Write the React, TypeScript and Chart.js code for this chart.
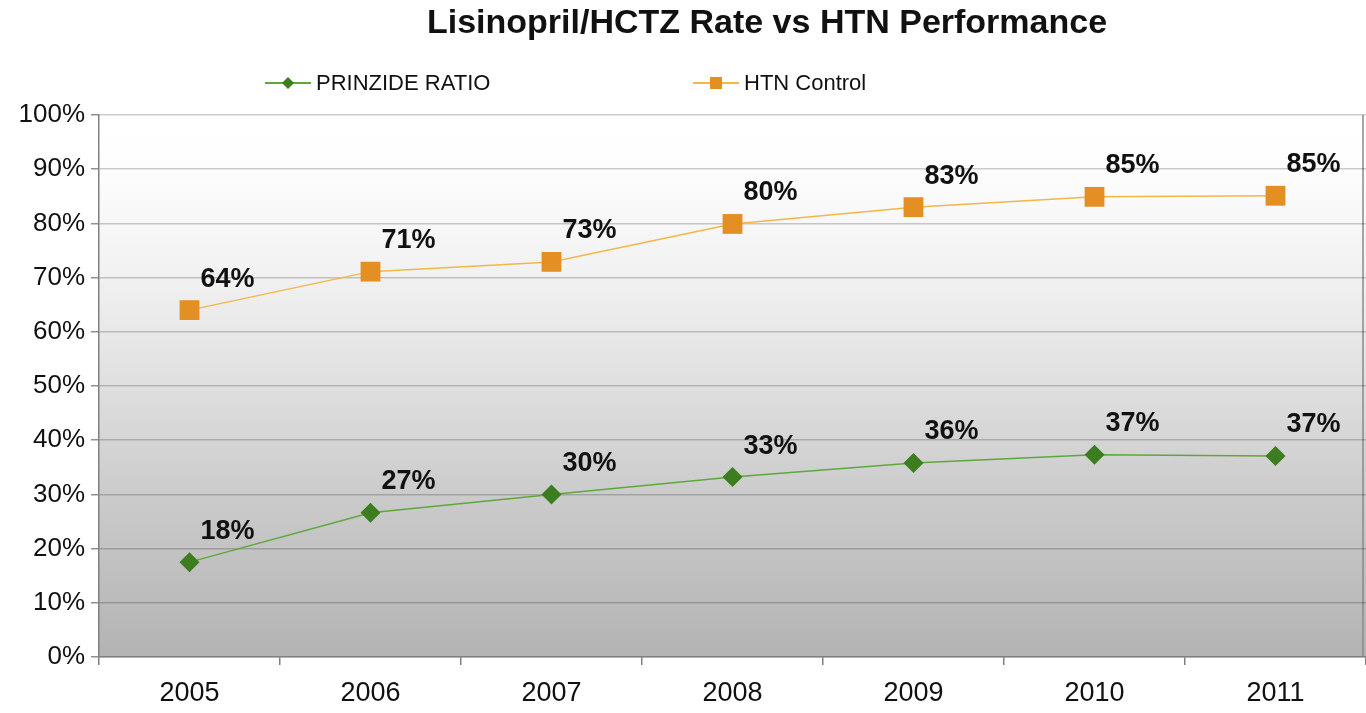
import React, { useEffect, useRef } from "react";
import { Chart, registerables } from "chart.js";

Chart.register(...registerables);

const categories = ["2005", "2006", "2007", "2008", "2009", "2010", "2011"];
const prinzideValues = [17.5, 26.6, 30.0, 33.2, 35.8, 37.3, 37.1];
const prinzideLabels = ["18%", "27%", "30%", "33%", "36%", "37%", "37%"];
const htnValues = [64.0, 71.1, 72.9, 79.9, 83.0, 84.9, 85.1];
const htnLabels = ["64%", "71%", "73%", "80%", "83%", "85%", "85%"];
const titleText = "Lisinopril/HCTZ Rate vs HTN Performance";

const FONT = "'Liberation Sans', Arial, sans-serif";

export default function App() {
  const ref = useRef<HTMLCanvasElement | null>(null);

  useEffect(() => {
    document.body.style.margin = "0";
    const canvas = ref.current!;
    const bgPlugin = {
      id: "bg",
      beforeDraw(chart: any) {
        const { ctx, chartArea } = chart;
        const g = ctx.createLinearGradient(0, chartArea.top, 0, chartArea.bottom);
        g.addColorStop(0, "#ffffff");
        g.addColorStop(0.1, "#fdfdfd");
        g.addColorStop(0.3, "#f1f1f1");
        g.addColorStop(0.5, "#dfdfdf");
        g.addColorStop(0.7, "#cbcbcb");
        g.addColorStop(1, "#b3b3b3");
        ctx.save();
        ctx.fillStyle = g;
        ctx.fillRect(chartArea.left, chartArea.top, chartArea.right - chartArea.left, chartArea.bottom - chartArea.top);
        ctx.strokeStyle = "#8a8a8a";
        ctx.lineWidth = 1.5;
        ctx.beginPath();
        ctx.moveTo(chartArea.right - 3, chartArea.top);
        ctx.lineTo(chartArea.right - 3, chartArea.bottom);
        ctx.stroke();
        ctx.restore();
      },
    };
    const overlayPlugin = {
      id: "overlay",
      afterDraw(chart: any) {
        const { ctx } = chart;
        ctx.save();
        // title
        ctx.fillStyle = "#111111";
        ctx.font = `bold 34px ${FONT}`;
        ctx.textAlign = "center";
        ctx.textBaseline = "middle";
        ctx.fillText(titleText, 767, 24);
        // legend
        const items = [
          { ds: chart.data.datasets[0], x: 265 },
          { ds: chart.data.datasets[1], x: 693 },
        ];
        ctx.font = `22px ${FONT}`;
        ctx.textAlign = "left";
        items.forEach(({ ds, x }) => {
          const y = 83;
          ctx.strokeStyle = ds.borderColor;
          ctx.lineWidth = 2;
          ctx.beginPath();
          ctx.moveTo(x, y);
          ctx.lineTo(x + 46, y);
          ctx.stroke();
          ctx.fillStyle = ds.pointBackgroundColor;
          const cx = x + 23;
          if (ds.pointStyle === "rectRot") {
            ctx.beginPath();
            ctx.moveTo(cx, y - 6);
            ctx.lineTo(cx + 6, y);
            ctx.lineTo(cx, y + 6);
            ctx.lineTo(cx - 6, y);
            ctx.closePath();
            ctx.fill();
          } else {
            ctx.fillRect(cx - 6, y - 6, 12, 12);
          }
          ctx.fillStyle = "#111111";
          ctx.fillText(ds.label, x + 51, y + 1);
        });
        // data labels
        ctx.font = `bold 27px ${FONT}`;
        ctx.textAlign = "center";
        ctx.fillStyle = "#111111";
        const labelSets = [prinzideLabels, htnLabels];
        chart.data.datasets.forEach((_ds: any, di: number) => {
          const meta = chart.getDatasetMeta(di);
          meta.data.forEach((pt: any, i: number) => {
            ctx.fillText(labelSets[di][i], pt.x + 38, pt.y - 31);
          });
        });
        ctx.restore();
      },
    };

    const chart = new Chart(canvas, {
      type: "line",
      data: {
        labels: categories,
        datasets: [
          {
            label: "PRINZIDE RATIO",
            data: prinzideValues,
            borderColor: "#5ea83a",
            borderWidth: 1.5,
            pointStyle: "rectRot",
            pointRadius: 10,
            pointBackgroundColor: "#3b7d1f",
            pointBorderColor: "#3b7d1f",
            pointBorderWidth: 0,
            tension: 0,
          } as any,
          {
            label: "HTN Control",
            data: htnValues,
            borderColor: "#f2b749",
            borderWidth: 1.5,
            pointStyle: "rect",
            pointRadius: 14,
            pointBackgroundColor: "#e38f24",
            pointBorderColor: "#e38f24",
            pointBorderWidth: 0,
            tension: 0,
          } as any,
        ],
      },
      options: {
        animation: false,
        responsive: false,
        layout: { autoPadding: false, padding: { top: 115, right: 0, left: 0, bottom: 0 } },
        plugins: {
          legend: { display: false },
          title: { display: false },
          tooltip: { enabled: false },
        },
        scales: {
          x: {
            type: "category",
            offset: true,
            grid: {
              offset: true,
              drawOnChartArea: false,
              drawTicks: true,
              tickLength: 8,
              color: "#808080",
              lineWidth: 1.5,
            },
            border: { color: "#808080", width: 1.5 },
            ticks: {
              color: "#111111",
              font: { family: FONT, size: 27 },
              padding: 12,
              maxRotation: 0,
            },
            afterFit(scale: any) {
              scale.height = 56;
              scale.paddingLeft = 0;
              scale.paddingRight = 0;
            },
          },
          y: {
            min: 0,
            max: 100,
            ticks: {
              stepSize: 10,
              color: "#111111",
              font: { family: FONT, size: 26 },
              padding: 6,
              callback: (v: any) => `${v}%`,
            },
            grid: {
              color: "rgba(0,0,0,0.2)",
              tickColor: "#909090",
              lineWidth: 1.5,
              tickLength: 8,
            },
            border: { color: "#808080", width: 1.5 },
            afterFit(scale: any) {
              scale.width = 99;
              scale.paddingTop = 0;
              scale.paddingBottom = 0;
            },
          },
        },
      },
      plugins: [bgPlugin, overlayPlugin],
    });
    return () => chart.destroy();
  }, []);

  return (
    <div style={{ width: 1366, height: 713 }}>
      <canvas ref={ref} width={1366} height={713} style={{ display: "block", width: 1366, height: 713 }} />
    </div>
  );
}
